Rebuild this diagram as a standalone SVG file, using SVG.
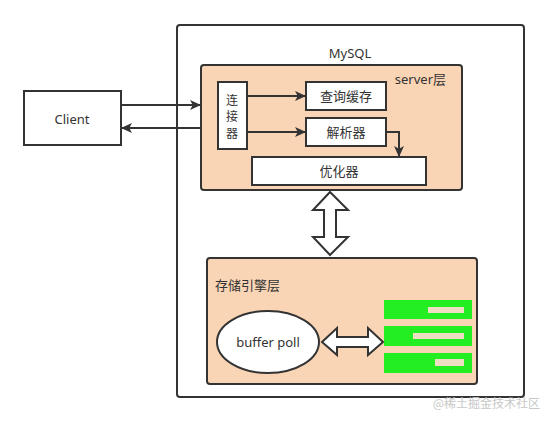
<svg xmlns="http://www.w3.org/2000/svg" width="550" height="422" viewBox="0 0 550 422">
<defs>
<marker id="ah" viewBox="0 0 10 10" refX="10" refY="5" markerWidth="11" markerHeight="10" markerUnits="userSpaceOnUse" orient="auto" preserveAspectRatio="none">
<path d="M0,0 L10,5 L0,10 L2.5,5 Z" fill="#333"/>
</marker>
<style>
.t{font-family:"Noto Sans","Noto Sans CJK SC",sans-serif;font-size:13px;fill:#333}
.v{font-size:12px}
.box{fill:#fff;stroke:#333;stroke-width:2}
.layer{fill:#FAD5B5;stroke:#333;stroke-width:2}
.line{fill:none;stroke:#333;stroke-width:2}
.green{fill:#22EE22}
.inner{fill:#F0DEC4}
</style>
</defs>
<rect width="550" height="422" fill="#fff"/>
<g id="mysql">
<rect x="177" y="25" width="347" height="372" rx="3" class="box"/>
<text x="350" y="58" class="t" font-size="14" text-anchor="middle">MySQL</text>
</g>
<g id="server-layer">
<rect x="201" y="65" width="261" height="125" rx="3" class="layer"/>
<text x="446" y="84" class="t" text-anchor="end">server层</text>
</g>
<g id="client">
<rect x="24" y="91" width="97" height="54" class="box"/>
<text x="72" y="124" class="t" text-anchor="middle">Client</text>
</g>
<g id="connector">
<rect x="218" y="82" width="29" height="67" class="box"/>
<text x="232" y="105" class="t v" text-anchor="middle">连</text>
<text x="232" y="121" class="t v" text-anchor="middle">接</text>
<text x="232" y="138" class="t v" text-anchor="middle">器</text>
</g>
<g id="query-cache">
<rect x="306" y="82" width="80" height="28" class="box"/>
<text x="346" y="101" class="t" text-anchor="middle">查询缓存</text>
</g>
<g id="parser">
<rect x="306" y="118" width="80" height="28" class="box"/>
<text x="346" y="137" class="t" text-anchor="middle">解析器</text>
</g>
<g id="optimizer">
<rect x="252" y="157" width="174" height="28" class="box"/>
<text x="339" y="176" class="t" text-anchor="middle">优化器</text>
</g>
<g id="storage-layer">
<rect x="207" y="258" width="270" height="126" rx="3" class="layer"/>
<text x="215" y="290" class="t">存储引擎层</text>
</g>
<g id="buffer-pool">
<ellipse cx="268" cy="342" rx="51" ry="31" class="box"/>
<text x="268" y="347" class="t" text-anchor="middle">buffer poll</text>
</g>
<g id="disk">
<rect x="384" y="300" width="88" height="19" class="green"/>
<rect x="428" y="307" width="36" height="6" class="inner"/>
<rect x="384" y="326" width="88" height="20" class="green"/>
<rect x="413" y="333" width="51" height="6" class="inner"/>
<rect x="384" y="353" width="88" height="20" class="green"/>
<rect x="435" y="359" width="29" height="7" class="inner"/>
</g>
<g id="connectors">
<line x1="121" y1="105" x2="201" y2="105" class="line" marker-end="url(#ah)"/>
<line x1="201" y1="128" x2="121" y2="128" class="line" marker-end="url(#ah)"/>
<line x1="247" y1="96" x2="306" y2="96" class="line" marker-end="url(#ah)"/>
<line x1="247" y1="132" x2="306" y2="132" class="line" marker-end="url(#ah)"/>
<polyline points="386,132 399,132 399,157" class="line" marker-end="url(#ah)"/>
<path d="M330,192 L348,210 L336,210 L336,237 L348,237 L330,255 L313,237 L324,237 L324,210 L313,210 Z" fill="#fff" stroke="#333" stroke-width="2" stroke-linejoin="miter"/>
<path d="M322,342 L337,328 L337,337 L368,337 L368,328 L383,342 L368,355 L368,347 L337,347 L337,355 Z" fill="#fff" stroke="#333" stroke-width="2"/>
</g>
<text x="540" y="408" font-family="Noto Sans CJK SC,sans-serif" font-size="12" fill="#C8C8C8" text-anchor="end">@稀土掘金技术社区</text>
</svg>
